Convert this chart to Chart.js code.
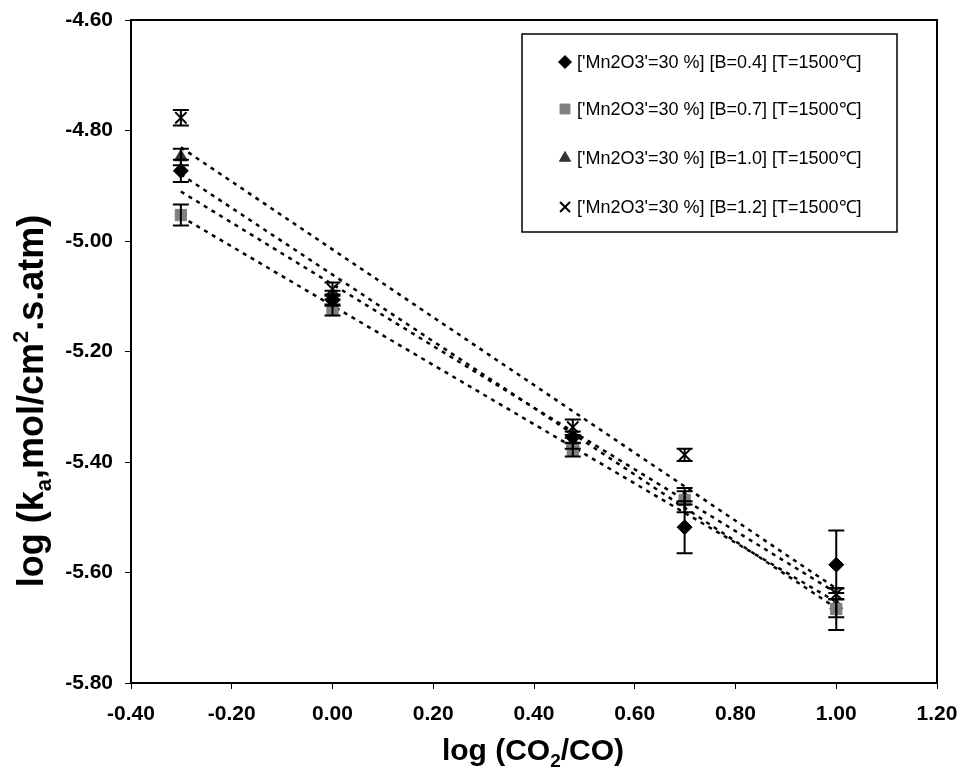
<!DOCTYPE html>
<html>
<head>
<meta charset="utf-8">
<script src="https://cdn.jsdelivr.net/npm/chart.js@4.4.0/dist/chart.umd.min.js"></script>
<style>
  body { margin: 0; background: #fff; }
  #wrap { width: 963px; height: 781px; }
</style>
</head>
<body>
<div id="wrap"><canvas id="chart" width="963" height="781"></canvas></div>
<script>
// log(CO2/CO) values
const xVals = [-0.301, 0, 0.477, 0.699, 1.0];

const seriesLabels = [
  "['Mn2O3'=30 %] [B=0.4] [T=1500\u2103]",
  "['Mn2O3'=30 %] [B=0.7] [T=1500\u2103]",
  "['Mn2O3'=30 %] [B=1.0] [T=1500\u2103]",
  "['Mn2O3'=30 %] [B=1.2] [T=1500\u2103]"
];

// log(ka) values
const b04 = [-4.873, -5.107, -5.355, -5.518, -5.586];
const b07 = [-4.953, -5.125, -5.378, -5.469, -5.666];
const b10 = [-4.848, -5.098, -5.366, -5.465, -5.659];
const b12 = [-4.777, -5.087, -5.337, -5.387, -5.639];

// error bar half-heights
const b04Err = [0.020, 0.010, 0.010, 0.047, 0.062];
const b07Err = [0.019, 0.010, 0.012, 0.022, 0.038];
const b10Err = [0.015, 0.008, 0.010, 0.012, 0.022];
const b12Err = [0.014, 0.012, 0.014, 0.011, 0.010];

const yTicks = [-5.80, -5.60, -5.40, -5.20, -5.00, -4.80, -4.60];
const xTicks = [-0.40, -0.20, 0.00, 0.20, 0.40, 0.60, 0.80, 1.00, 1.20];

const seriesVals = [b04, b07, b10, b12];
const seriesErrs = [b04Err, b07Err, b10Err, b12Err];
const styles = [
  { pointStyle: 'rectRot', color: '#000000', radius: 7.5 },
  { pointStyle: 'rect', color: '#808080', radius: 8 },
  { pointStyle: 'triangle', color: '#333333', radius: 7.5 },
  { pointStyle: 'crossRot', color: '#000000', radius: 8 }
];

// least squares line through each series
function fitLine(xs, ys) {
  const n = xs.length;
  const mx = xs.reduce((a, b) => a + b, 0) / n;
  const my = ys.reduce((a, b) => a + b, 0) / n;
  let sxy = 0, sxx = 0;
  for (let i = 0; i < n; i++) {
    sxy += (xs[i] - mx) * (ys[i] - my);
    sxx += (xs[i] - mx) * (xs[i] - mx);
  }
  const slope = sxy / sxx;
  return x => my + slope * (x - mx);
}

const datasets = [];
seriesVals.forEach((vals, i) => {
  datasets.push({
    label: seriesLabels[i],
    data: xVals.map((x, j) => ({ x: x, y: vals[j] })),
    errors: seriesErrs[i],
    pointStyle: styles[i].pointStyle,
    pointRadius: styles[i].radius,
    backgroundColor: styles[i].color,
    borderColor: styles[i].color,
    borderWidth: styles[i].pointStyle === 'crossRot' ? 2 : 1,
    showLine: false
  });
});
seriesVals.forEach((vals, i) => {
  const f = fitLine(xVals, vals);
  const x0 = xVals[0], x1 = xVals[xVals.length - 1];
  datasets.push({
    label: 'trend' + i,
    data: [{ x: x0, y: f(x0) }, { x: x1, y: f(x1) }],
    showLine: true,
    borderColor: '#000',
    borderWidth: 2.5,
    borderDash: [4, 5],
    pointRadius: 0,
    fill: false
  });
});

const errorBars = {
  id: 'errorBars',
  afterDatasetsDraw(chart) {
    const ctx = chart.ctx;
    const xs = chart.scales.x, ys = chart.scales.y;
    ctx.save();
    ctx.strokeStyle = '#000';
    ctx.lineWidth = 2;
    chart.data.datasets.forEach(ds => {
      if (!ds.errors) return;
      ds.data.forEach((p, i) => {
        const px = xs.getPixelForValue(p.x);
        const top = ys.getPixelForValue(p.y + ds.errors[i]);
        const bot = ys.getPixelForValue(p.y - ds.errors[i]);
        ctx.beginPath();
        ctx.moveTo(px, top); ctx.lineTo(px, bot);
        ctx.moveTo(px - 8, top); ctx.lineTo(px + 8, top);
        ctx.moveTo(px - 8, bot); ctx.lineTo(px + 8, bot);
        ctx.stroke();
      });
    });
    ctx.restore();
  }
};

// frame, legend box and axis titles
const extras = {
  id: 'extras',
  afterDraw(chart) {
    const ctx = chart.ctx;
    const a = chart.chartArea;
    ctx.save();
    ctx.strokeStyle = '#000';
    ctx.lineWidth = 2;
    ctx.strokeRect(a.left, a.top, a.right - a.left, a.bottom - a.top);

    // legend
    const lx = 522, ly = 34, lw = 375, lh = 198;
    ctx.fillStyle = '#fff';
    ctx.fillRect(lx, ly, lw, lh);
    ctx.lineWidth = 1.5;
    ctx.strokeRect(lx, ly, lw, lh);
    const rows = [62, 109, 158, 207];
    for (let i = 0; i < 4; i++) {
      const ds = chart.data.datasets[i];
      ctx.fillStyle = ds.backgroundColor;
      ctx.strokeStyle = ds.borderColor;
      ctx.lineWidth = ds.borderWidth;
      Chart.helpers.drawPoint(ctx, { pointStyle: ds.pointStyle, radius: ds.pointRadius - 1, borderWidth: ds.borderWidth }, 565, rows[i]);
      ctx.fillStyle = '#000';
      ctx.font = '18px "Liberation Sans", Arial, sans-serif';
      ctx.textBaseline = 'middle';
      ctx.textAlign = 'left';
      ctx.fillText(ds.label, 577, rows[i] + 1);
    }

    // x title: log (CO2/CO)
    ctx.fillStyle = '#000';
    ctx.textBaseline = 'alphabetic';
    let big = 'bold 30px "Liberation Sans", Arial, sans-serif';
    let small = 'bold 19px "Liberation Sans", Arial, sans-serif';
    const xParts = [['log (CO', big, 0], ['2', small, 7], ['/CO)', big, 0]];
    let w = 0;
    xParts.forEach(p => { ctx.font = p[1]; w += ctx.measureText(p[0]).width; });
    let cx = 533 - w / 2;
    xParts.forEach(p => {
      ctx.font = p[1];
      ctx.fillText(p[0], cx, 760 + p[2]);
      cx += ctx.measureText(p[0]).width;
    });

    // y title: log (ka,mol/cm2.s.atm)
    big = 'bold 36px "Liberation Sans", Arial, sans-serif';
    small = 'bold 22px "Liberation Sans", Arial, sans-serif';
    ctx.translate(43, 401);
    ctx.rotate(-Math.PI / 2);
    const yParts = [['log (k', big, 0], ['a', small, 8], [',mol/cm', big, 0], ['2', small, -15], ['.s.atm)', big, 0]];
    w = 0;
    yParts.forEach(p => { ctx.font = p[1]; w += ctx.measureText(p[0]).width; });
    cx = -w / 2;
    yParts.forEach(p => {
      ctx.font = p[1];
      ctx.fillText(p[0], cx, 0 + p[2]);
      cx += ctx.measureText(p[0]).width;
    });
    ctx.restore();
  }
};

const tickFont = { family: '"Liberation Sans", Arial, sans-serif', size: 21, weight: 'bold' };

new Chart(document.getElementById('chart').getContext('2d'), {
  type: 'scatter',
  data: { datasets: datasets },
  plugins: [errorBars, extras],
  options: {
    responsive: false,
    animation: false,
    layout: { padding: { left: 0, right: 26, top: 20, bottom: 0 } },
    plugins: { legend: { display: false }, tooltip: { enabled: false } },
    scales: {
      x: {
        type: 'linear',
        min: xTicks[0],
        max: xTicks[xTicks.length - 1],
        afterBuildTicks: s => { s.ticks = xTicks.map(v => ({ value: v })); },
        afterFit: s => { s.height = 98; s.paddingLeft = 0; s.paddingRight = 0; },
        ticks: { color: '#000', font: tickFont, padding: 13, callback: v => v.toFixed(2) },
        grid: { drawOnChartArea: false, color: '#000', tickLength: 6 },
        border: { color: '#000', width: 2 }
      },
      y: {
        type: 'linear',
        min: yTicks[0],
        max: yTicks[yTicks.length - 1],
        afterBuildTicks: s => { s.ticks = yTicks.map(v => ({ value: v })); },
        afterFit: s => { s.width = 131; s.paddingTop = 0; s.paddingBottom = 0; },
        ticks: { color: '#000', font: tickFont, padding: 12, callback: v => v.toFixed(2) },
        grid: { drawOnChartArea: false, color: '#000', tickLength: 6 },
        border: { color: '#000', width: 2 }
      }
    }
  }
});
</script>
</body>
</html>
